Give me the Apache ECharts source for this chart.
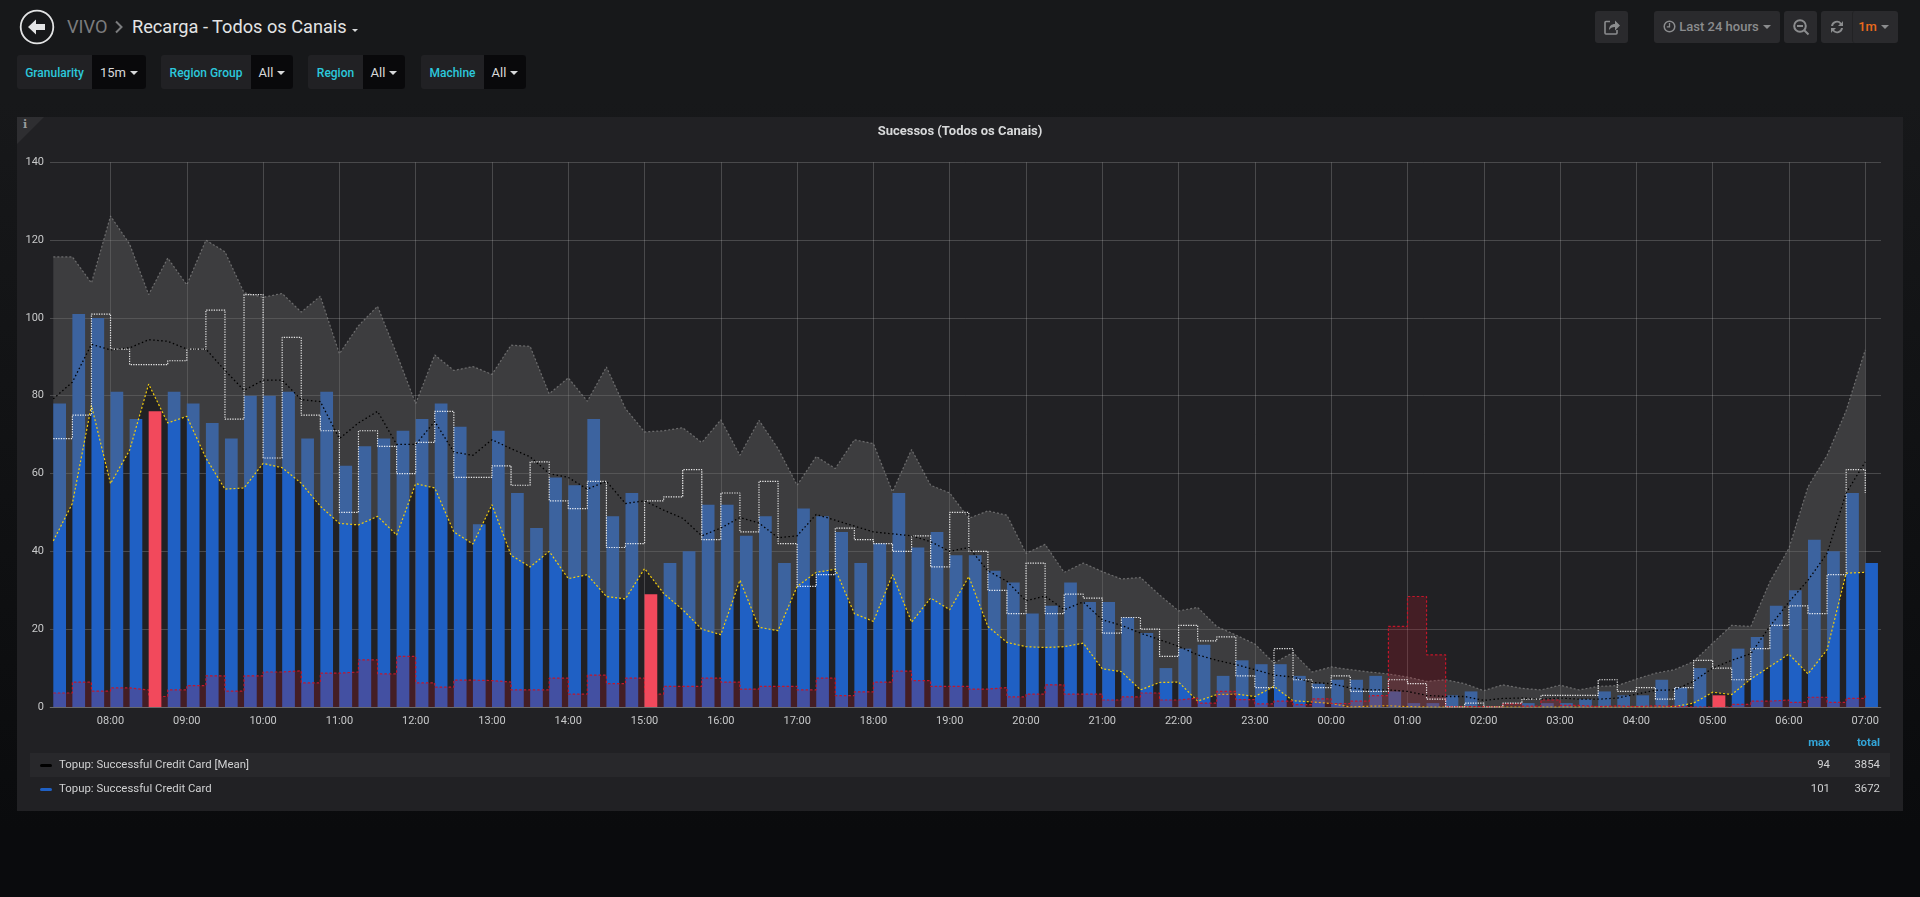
<!DOCTYPE html>
<html><head><meta charset="utf-8"><title>Recarga - Todos os Canais</title>
<script src="https://cdn.jsdelivr.net/npm/echarts@6/dist/echarts.min.js"></script>
<style>
html,body{margin:0;padding:0;width:1920px;height:897px;overflow:hidden;background:linear-gradient(#17181a 0,#17181a 100px,#0a0b0d 830px);font-family:Roboto,sans-serif;}
.a{position:absolute;white-space:nowrap;}
#panel{left:17px;top:117px;width:1886px;height:694px;background:#212124;}
#corner{left:17px;top:117px;width:27px;height:27px;background:#2e2e31;clip-path:polygon(0 0,100% 0,0 100%);}
#chart{left:0;top:0;width:1920px;height:897px;}
.box{height:34px;top:55px;background:#212124;border-radius:3px;}
.lab{top:56px;height:34px;line-height:34px;font-size:12px;font-weight:500;color:#2cc8dc;text-align:center;}
.val{top:55px;height:34px;background:#09090b;border-radius:0 3px 3px 0;line-height:36px;font-size:13px;color:#d8d9da;text-align:center;}
.caret{display:inline-block;width:0;height:0;border-left:4px solid transparent;border-right:4px solid transparent;border-top:4px solid currentColor;margin-left:4px;vertical-align:2px;}
.btn{top:11px;height:32px;background:#2a2a2d;border-radius:3px;color:#8b8c8e;font-size:13px;font-weight:500;line-height:32px;text-align:center;}
.row{left:30px;width:1860px;height:24px;}
.lt{top:-1px;line-height:24px;font-size:11.4px;color:#d0d1d2;}
.sw{left:10px;top:10.5px;width:12px;height:3.5px;border-radius:2px;}
</style></head><body>
<div class="a" id="panel"></div><div class="a" id="corner"></div>
<div class="a" style="left:23px;top:118px;font:bold 11px 'DejaVu Serif',serif;color:#9a9a9c;">i</div>

<svg class="a" style="left:19px;top:9px" width="36" height="36" viewBox="0 0 36 36">
<circle cx="18" cy="18" r="16.3" fill="none" stroke="#e3e4e5" stroke-width="1.8"/>
<path d="M9 18 L17 10.5 L17 15 L26 15 L26 21 L17 21 L17 25.5 Z" fill="#e3e4e5"/></svg>
<div class="a" style="left:67px;top:15px;font-size:18.2px;line-height:24px;color:#7b7c7e;">VIVO</div>
<svg class="a" style="left:114px;top:20px" width="10" height="14" viewBox="0 0 10 14"><path d="M2 1.5 L7.5 7 L2 12.5" fill="none" stroke="#7b7c7e" stroke-width="2"/></svg>
<div class="a" style="left:132px;top:15px;font-size:18.2px;line-height:24px;color:#e3e4e5;">Recarga - Todos os Canais</div>
<div class="a" style="left:352px;top:29px;width:0;height:0;border-left:3.5px solid transparent;border-right:3.5px solid transparent;border-top:3.5px solid #d8d9da;"></div>

<div class="a box" style="left:17px;width:129px"></div><div class="a lab" style="left:17px;width:75px">Granularity</div><div class="a val" style="left:92px;width:54px">15m<span class="caret"></span></div>
<div class="a box" style="left:161px;width:132px"></div><div class="a lab" style="left:161px;width:90px">Region Group</div><div class="a val" style="left:251px;width:42px">All<span class="caret"></span></div>
<div class="a box" style="left:308px;width:97px"></div><div class="a lab" style="left:308px;width:55px">Region</div><div class="a val" style="left:363px;width:42px">All<span class="caret"></span></div>
<div class="a box" style="left:421px;width:105px"></div><div class="a lab" style="left:421px;width:63px">Machine</div><div class="a val" style="left:484px;width:42px">All<span class="caret"></span></div>

<div class="a btn" style="left:1595px;width:33px"><svg width="18" height="18" viewBox="0 0 18 18" style="margin-top:7px"><path d="M7 3.5H3a1 1 0 0 0-1 1V15a1 1 0 0 0 1 1h10a1 1 0 0 0 1-1v-3" fill="none" stroke="#8b8c8e" stroke-width="1.6"/><path d="M6 12c0-4 2.500-6 6-6V2.500l5 5-5 5V9c-3 0-4.500 1-6 3z" fill="#8b8c8e"/></svg></div>
<div class="a btn" style="left:1654px;width:126px"><svg width="13" height="13" viewBox="0 0 13 13" style="vertical-align:-2px;margin-right:3px"><circle cx="6.500" cy="6.500" r="5.300" fill="none" stroke="#8b8c8e" stroke-width="1.500"/><path d="M6.500 3v3.800H3.800" fill="none" stroke="#8b8c8e" stroke-width="1.300"/></svg>Last 24 hours<span class="caret"></span></div>
<div class="a btn" style="left:1784px;width:33px"><svg width="18" height="18" viewBox="0 0 18 18" style="margin-top:7px"><circle cx="8" cy="8" r="5.800" fill="none" stroke="#8b8c8e" stroke-width="2"/><path d="M5 8h6M12 12l4.500 4.500" stroke="#8b8c8e" stroke-width="2"/></svg></div>
<div class="a btn" style="left:1821px;width:77px"></div>
<div class="a btn" style="left:1821px;width:31px;background:none"><svg width="16" height="16" viewBox="0 0 16 16" style="margin-top:8px"><path d="M2 7a6 6 0 0 1 10.500-3L14 2v5H9l2-2a4 4 0 0 0-7 2zM14 9a6 6 0 0 1-10.500 3L2 14V9h5l-2 2a4 4 0 0 0 7-2z" fill="#8b8c8e"/></svg></div>
<div class="a btn" style="left:1852px;width:46px;background:none;border-left:1px solid #222224;box-sizing:border-box;padding-right:4px"><span style="color:#eb6a1c">1m</span><span class="caret"></span></div>

<div class="a" id="chart"></div>

<div class="a" style="right:90px;top:736px;font-size:11.4px;font-weight:700;color:#33a5d8;line-height:13px">max</div>
<div class="a" style="right:40px;top:736px;font-size:11.4px;font-weight:700;color:#33a5d8;line-height:13px">total</div>
<div class="a row" style="top:753px;background:#28282b"><div class="a sw" style="background:#000"></div><div class="a lt" style="left:29px">Topup: Successful Credit Card [Mean]</div><div class="a lt" style="right:60px">94</div><div class="a lt" style="right:10px">3854</div></div>
<div class="a row" style="top:777px"><div class="a sw" style="background:#1f60c4"></div><div class="a lt" style="left:29px">Topup: Successful Credit Card</div><div class="a lt" style="right:60px">101</div><div class="a lt" style="right:10px">3672</div></div>

<script>
const barValues=[78,101,100,81,74,76,81,78,73,69,80,80,81,69,81,62,67,69,71,74,78,72,47,71,55,46,59,57,74,49,55,29,37,40,52,52,44,49,37,51,49,45,37,42,55,41,45,39,39,35,32,24,26,32,27,27,23,19,10,15,16,8,12,11,11,8,6,7,7,8,4,1,1,3,4,0,0,1,1,1,2,4,3,3,7,5,10,3,15,18,26,30,43,40,55,37];
const outlierSlots=[5,31,87];
const meanValues=[79.2,83.5,93.2,91.8,92.3,94.4,94,92,92,86.5,81.4,84,84,79,78.5,69,73,76,67.5,67.5,73.4,65.5,64.7,68.7,66.4,64.3,60,59,56,58,52.3,53,50.6,48.5,44,46,48.7,47.3,43.5,44,49.5,48,46.5,45,44.5,44,42.5,40,41,35,32.3,27.3,28.5,25,27,22.4,21,19,17.3,15.6,13.4,12,10.9,9.6,8.2,7.7,6.3,6,4.9,4.4,4.4,4,3,2.7,2.7,1.7,2.2,2.3,2,2.3,2,2,2.3,3.3,4.3,4.4,6.6,10,12,13.7,20.7,27,32.6,39.5,55,63];
const upperBound=[115.7,115.7,109,126.2,119,106,115.4,108.5,120,117,106.5,105.3,106.3,101.5,105.6,90.8,98,103,90.8,78,90.5,86.5,87.5,85.5,93,92.7,80.5,84.6,78.6,87.4,76.7,70.7,71,71.8,68,73.8,64.7,73.7,66.4,57,64.4,61.3,68.7,67.7,55.3,66.2,57,55,48.5,50.4,49.3,39.5,41.8,34.6,37,34.8,32.9,33.3,28.8,24.7,25.6,20.7,18.5,16.2,11.3,14,9,10.3,9.6,9,8.5,7.7,6.6,7,6,4.2,5.7,4.8,4.4,5.6,4.4,5.3,5.5,7.2,8.7,9.6,11.7,16.4,21,20.7,32.2,40.8,56.6,64.7,76.2,91.8];
const lowerBound=[42.7,52.3,77.5,57.4,66,83,73,74.7,64,56,56.3,62.6,61.5,57.5,51.6,47.2,46.8,49,44.2,57.4,56.3,45,41.9,52,39,36,40,33,34,28.4,27.8,35.6,29.2,25,20,18.6,32.6,20.5,19.6,31,34.6,35.4,24,22,34,21.8,28,25,33.5,20.7,16.6,15.5,15.3,15.5,16.4,9.8,9.1,4.4,6.3,6.4,1.5,3.2,3.3,2.7,5.3,1.6,1.3,0.9,0,0.2,0.3,0.1,0,0,0,0,0,0,0,0,0,0,0,0,0,0.1,1,3.8,3.2,7.2,10.4,13.6,8.5,14.7,34.4,34.6];
const previousValues=[69,75,101,92,88,88,89,92,102,74,106,64,95,75,71,50,71,67,60,68,76,59,59,62,57,63,53,51,58,41,42,53,54,61,43,55,45,58,42,31,34,46,43,42,40,44,36,50,40,30,24,37,24,29,28,19,23,20,13,21,17,18,8,5,15,7,5,8,4,4,7,6,2,0,1,0,1,2,3,3,3,7,4,5,2,5,12,10,7,15,21,26,24,34,61,55];
const deviationValues=[3.6,6.4,4.1,4.9,4.4,2.7,4.4,5.5,8,4.1,8,9,9.3,6.2,8.7,9,12.1,8.5,13,6.2,5.1,6.9,6.8,6.4,4.4,4.4,7.4,3.3,8.2,6,7.4,3.3,5.3,5.3,7.4,6.4,4.6,5.3,5.3,4.4,7.4,2.9,3.9,6.4,9.2,6.8,5.3,5.3,4.6,5,2.6,3.3,5.7,3.3,3.3,1.8,2.6,3.6,1.8,2.3,1,4,1.9,0.8,1.5,0.6,2.1,0.9,1.5,2.9,20.7,28.4,13.4,0.1,0.1,0,0.8,0.2,1.8,0.4,0.1,0.3,0.1,0.3,0.2,0,0,0,0.7,1.5,1.8,1.2,2.5,1.2,2.2,3.4];
const chartTitle='Sucessos (Todos os Canais)';

const STEP=15*60000, HOUR=3600000;
const t0=new Date(2019,5,3,7,15).getTime();
const times=barValues.map((_,i)=>t0+i*STEP);
const barCentre=5*60000;
const pair=(arr)=>arr.map((v,i)=>[times[i],v]);
const blueBars=barValues.map((v,i)=>[times[i]+barCentre,outlierSlots.includes(i)?null:v]);
const pinkBars=barValues.map((v,i)=>[times[i]+barCentre,outlierSlots.includes(i)?v:null]);
const bandHeight=upperBound.map((v,i)=>v-lowerBound[i]);

const BAR_W=12.7, AXIS_PX=1831;
/* ECharts widens a time axis that carries bars by one bar width; narrow the requested extent to cancel that */
const wantMin=t0-2.6*60000, wantMax=times[95]+12.4*60000, wantSpan=wantMax-wantMin;
const inset=wantSpan*(BAR_W/AXIS_PX)/2;

const chart=echarts.init(document.getElementById('chart'),null,{renderer:'canvas'});
const hhmm=(v)=>{const d=new Date(v);return String(d.getHours()).padStart(2,'0')+':'+String(d.getMinutes()).padStart(2,'0');};
const gridColor='rgba(255,255,255,0.18)';
chart.setOption({
 animation:false,backgroundColor:'transparent',
 title:{text:chartTitle,left:'center',top:119,textStyle:{color:'#d8d9da',fontFamily:'Roboto',fontSize:13,fontWeight:'bold',lineHeight:15}},
 grid:{left:50,right:39,top:162.3,bottom:190},
 xAxis:{type:'time',min:wantMin+inset,max:wantMax-inset,minInterval:HOUR,maxInterval:HOUR,
  axisLine:{show:true,lineStyle:{color:gridColor}},axisTick:{show:false},
  axisLabel:{color:'#c8c9ca',fontFamily:'Roboto',fontSize:11,margin:9,showMinLabel:false,showMaxLabel:false,formatter:hhmm,hideOverlap:false},
  splitLine:{show:true,showMinLine:false,showMaxLine:false,lineStyle:{color:gridColor,width:1}}},
 yAxis:{type:'value',min:0,max:140,interval:20,axisLine:{show:false},axisTick:{show:false},
  axisLabel:{color:'#c8c9ca',fontFamily:'Roboto',fontSize:11,margin:6},
  splitLine:{show:true,lineStyle:{color:gridColor,width:1}}},
 series:[
  {name:'Topup: Successful Credit Card',type:'bar',data:blueBars,barWidth:BAR_W,barGap:'-100%',z:2,itemStyle:{color:'#1f60c4'}},
  {name:'Lower bound',type:'line',stack:'band',data:pair(lowerBound),showSymbol:false,z:3,lineStyle:{color:'#f2cc0c',width:1.2,type:[2,2]}},
  {name:'Band',type:'line',stack:'band',data:pair(bandHeight),showSymbol:false,z:3,lineStyle:{color:'rgba(150,150,150,0.6)',width:1.2,type:[2,2]},areaStyle:{color:'rgba(105,105,105,0.4)',opacity:1}},
  {name:'Deviation',type:'line',step:'end',data:pair(deviationValues),showSymbol:false,z:4,lineStyle:{color:'#c4162a',width:1.2,type:[2.5,2]},areaStyle:{color:'rgba(196,22,42,0.22)',opacity:1}},
  {name:'Outlier',type:'bar',data:pinkBars,barWidth:BAR_W,barGap:'-100%',z:5,itemStyle:{color:'#f2495c'}},
  {name:'Previous',type:'line',step:'end',data:pair(previousValues),showSymbol:false,z:6,lineStyle:{color:'#ffffff',width:1.2,type:[1.3,1.2],opacity:.88}},
  {name:'Topup: Successful Credit Card [Mean]',type:'line',data:pair(meanValues),showSymbol:false,z:7,lineStyle:{color:'#000000',width:1.3,type:[1.5,2.5]}}
 ]
});
</script>
</body></html>
